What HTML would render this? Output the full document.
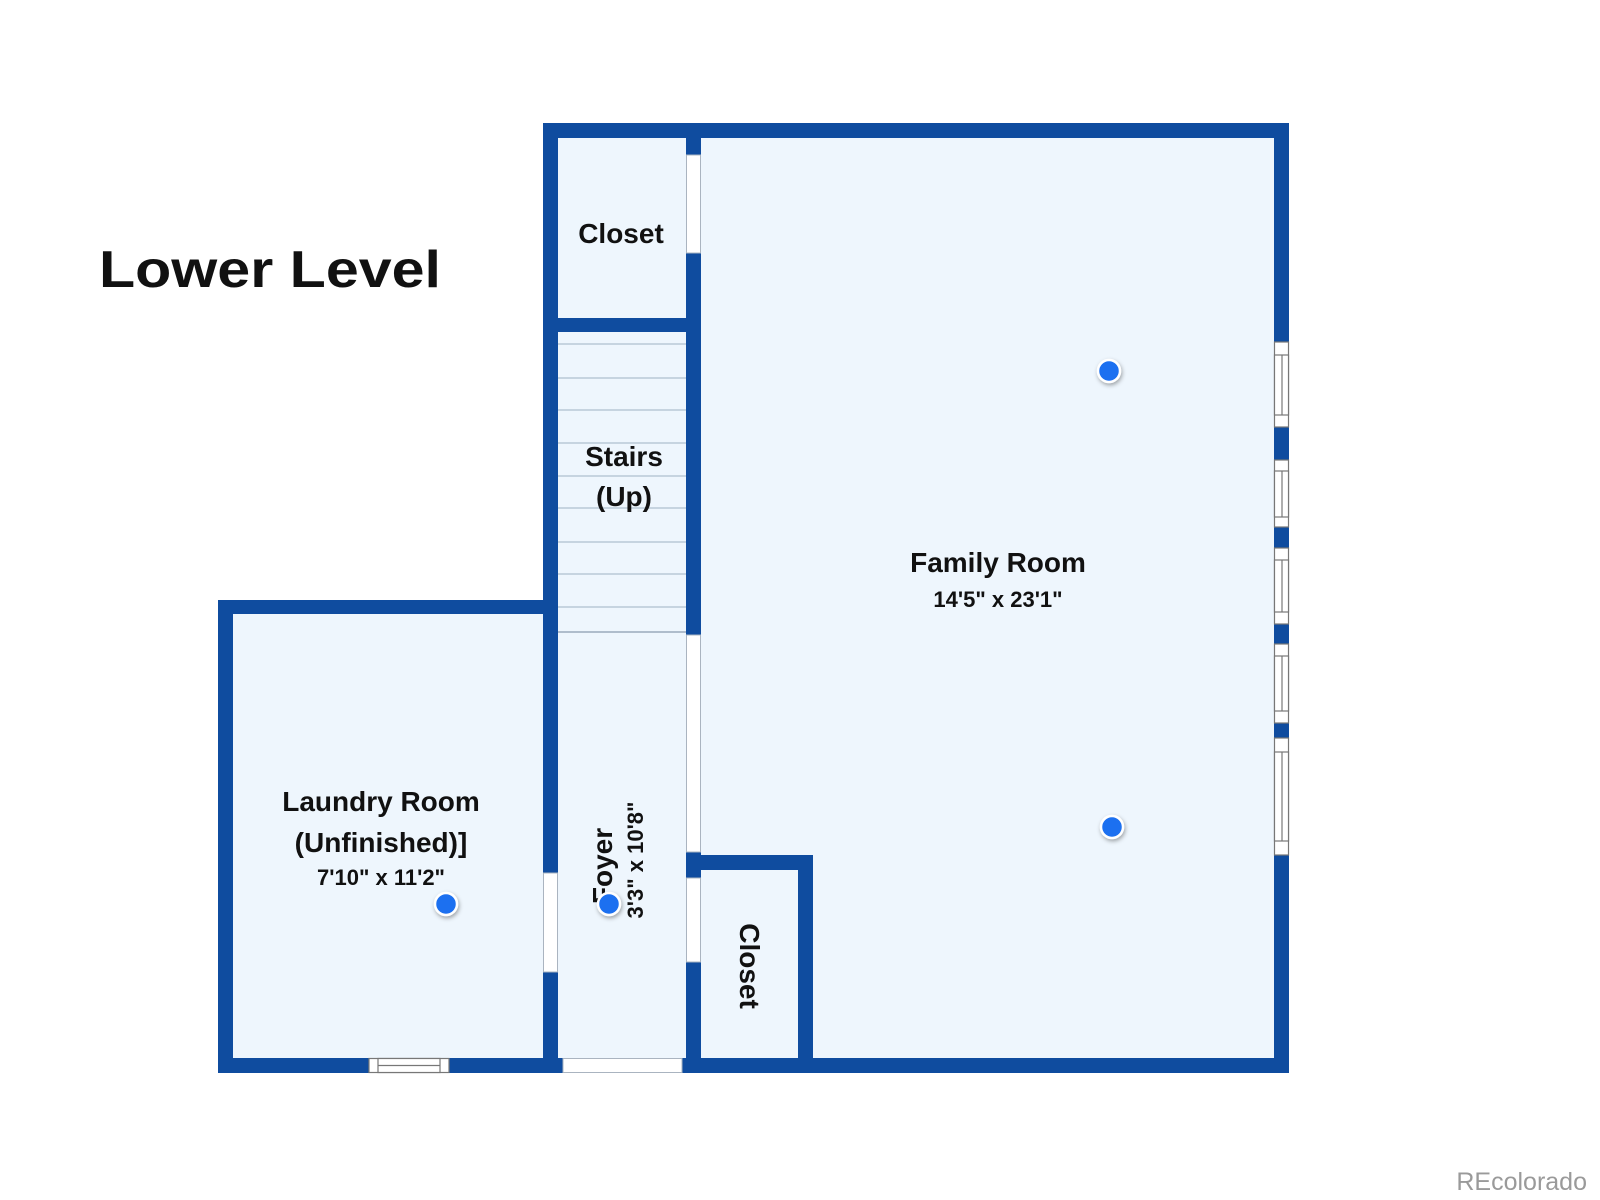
<!DOCTYPE html>
<html><head><meta charset="utf-8"><style>
html,body{margin:0;padding:0;background:#fff;}
svg{display:block}
text{font-family:"Liberation Sans",sans-serif;font-weight:bold;fill:#111;}
</style></head><body>
<svg width="1600" height="1200" viewBox="0 0 1600 1200" xmlns="http://www.w3.org/2000/svg">
<defs><filter id="sh" x="-50%" y="-50%" width="200%" height="200%"><feDropShadow dx="1" dy="2" stdDeviation="2" flood-color="#000" flood-opacity="0.35"/></filter></defs>
<rect x="233" y="614" width="312" height="444" fill="#eef6fd"/>
<rect x="556" y="138" width="720" height="920" fill="#eef6fd"/>
<g stroke="#b9c8d6" stroke-width="1.5">
<line x1="558" y1="344" x2="686" y2="344"/><line x1="558" y1="378" x2="686" y2="378"/>
<line x1="558" y1="410" x2="686" y2="410"/><line x1="558" y1="443" x2="686" y2="443"/>
<line x1="558" y1="476" x2="686" y2="476"/><line x1="558" y1="508" x2="686" y2="508"/>
<line x1="558" y1="542" x2="686" y2="542"/><line x1="558" y1="574" x2="686" y2="574"/>
<line x1="558" y1="607" x2="686" y2="607"/><line x1="558" y1="632" x2="686" y2="632" stroke="#9aaabb"/>
</g>
<g fill="#0f4c9f">
<rect x="543" y="123" width="746" height="15"/>
<rect x="1274" y="123" width="15" height="219"/>
<rect x="1274" y="427" width="15" height="33"/>
<rect x="1274" y="527" width="15" height="21"/>
<rect x="1274" y="624" width="15" height="20"/>
<rect x="1274" y="723" width="15" height="15"/>
<rect x="1274" y="855" width="15" height="218"/>
<rect x="218" y="1058" width="151" height="15"/>
<rect x="449" y="1058" width="114" height="15"/>
<rect x="682" y="1058" width="607" height="15"/>
<rect x="218" y="600" width="15" height="473"/>
<rect x="218" y="600" width="340" height="14"/>
<rect x="543" y="123" width="15" height="750"/>
<rect x="543" y="972" width="15" height="101"/>
<rect x="543" y="318" width="158" height="14"/>
<rect x="686" y="123" width="15" height="32"/>
<rect x="686" y="253" width="15" height="382"/>
<rect x="686" y="852" width="15" height="26"/>
<rect x="686" y="962" width="15" height="111"/>
<rect x="686" y="855" width="127" height="15"/>
<rect x="798" y="855" width="15" height="218"/>
</g>
<g fill="#fff" stroke="#aab4c0" stroke-width="1">
<rect x="543.5" y="873" width="14" height="99"/>
<rect x="686.5" y="155" width="14" height="98"/>
<rect x="686.5" y="635" width="14" height="217"/>
<rect x="686.5" y="878" width="14" height="84"/>
<rect x="563" y="1058.5" width="119" height="14"/>
</g>
<g fill="#fff" stroke="#777" stroke-width="1.2">
<rect x="1274.5" y="342" width="14" height="85"/><rect x="1274.5" y="355" width="14" height="60"/><line x1="1282" y1="355" x2="1282" y2="415"/>
<rect x="1274.5" y="460" width="14" height="67"/><rect x="1274.5" y="471" width="14" height="46"/><line x1="1282" y1="471" x2="1282" y2="517"/>
<rect x="1274.5" y="548" width="14" height="76"/><rect x="1274.5" y="560" width="14" height="52"/><line x1="1282" y1="560" x2="1282" y2="612"/>
<rect x="1274.5" y="644" width="14" height="79"/><rect x="1274.5" y="656" width="14" height="55"/><line x1="1282" y1="656" x2="1282" y2="711"/>
<rect x="1274.5" y="738" width="14" height="117"/><rect x="1274.5" y="752" width="14" height="89"/><line x1="1282" y1="752" x2="1282" y2="841"/>
<rect x="369" y="1058.5" width="80" height="14"/><rect x="378" y="1058.5" width="62" height="14"/><line x1="378" y1="1065.5" x2="440" y2="1065.5"/>
</g>
<text x="99" y="287" font-size="52" textLength="342" lengthAdjust="spacingAndGlyphs">Lower Level</text>
<g text-anchor="middle" font-size="28">
<text x="621" y="243">Closet</text>
<text x="624" y="466">Stairs</text>
<text x="624" y="506">(Up)</text>
<text x="998" y="572">Family Room</text>
<text x="998" y="607" font-size="22">14'5" x 23'1"</text>
<text x="381" y="811">Laundry Room</text>
<text x="381" y="852">(Unfinished)]</text>
<text x="381" y="885" font-size="22">7'10" x 11'2"</text>
<text transform="translate(612,866) rotate(-90)">Foyer</text>
<text transform="translate(643,860) rotate(-90)" font-size="22">3'3" x 10'8"</text>
<text transform="translate(740,966) rotate(90)">Closet</text>
</g>
<g fill="#1a6ff0" stroke="#fff" stroke-width="2.5" filter="url(#sh)">
<circle cx="1109" cy="371" r="11"/><circle cx="1112" cy="827" r="11"/>
<circle cx="446" cy="904" r="11"/><circle cx="609" cy="904" r="11"/>
</g>
<text x="1587" y="1190" text-anchor="end" font-size="25" style="font-weight:normal;fill:#9a9a9a">REcolorado</text>
</svg>
</body></html>
